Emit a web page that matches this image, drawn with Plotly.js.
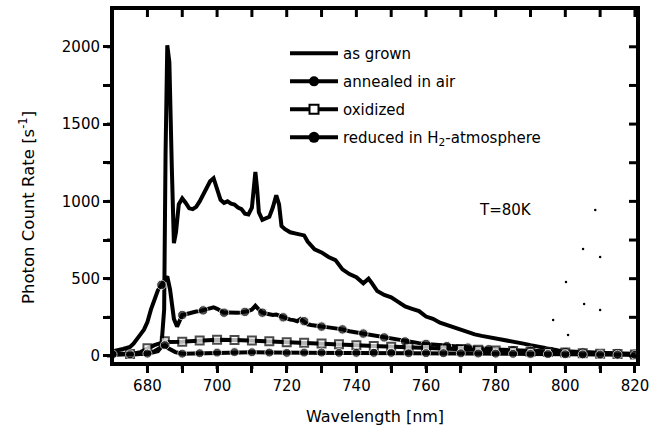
<!DOCTYPE html>
<html>
<head>
<meta charset="utf-8">
<script src="https://cdn.plot.ly/plotly-3.0.1.min.js"></script>
<style>html,body{margin:0;padding:0;background:#fff;}</style>
</head>
<body>
<div id="chart" style="width:670px;height:432px;"></div>
<script>
// ---- data ----
const seriesNames = ['as grown', 'annealed in air', 'oxidized', 'reduced in H<sub>2</sub>-atmosphere'];

const grownX = [670,672,674,676,678,680,682,683,684,684.8,685.2,685.7,686.3,686.7,687,687.6,688.2,689,690,691,
  692,693,694,695,696,697,698,699,700,701,702,703,704,705,706,707,708,709,710,710.5,
  711,711.5,712,713,714,715,716,717,717.8,718.5,719.5,721,723,725,726,728,730,732,734,736,
  738,740,742,743.5,744.5,746,748,750,752,754,756,758,760,762,764,766,768,770,772,774,
  776,778,780,782,784,786,788,790,792,794,796,798,800,805,810,815,820];
const grownY = [20,15,10,10,12,15,25,30,60,300,1300,2010,1900,1620,1220,730,800,980,1020,990,
  955,950,965,1000,1040,1090,1130,1150,1080,1010,990,1000,985,980,960,950,920,915,960,1100,
  1190,1080,930,880,890,900,960,1040,980,840,820,800,790,780,740,690,670,640,620,560,
  530,510,470,500,470,420,395,380,350,320,305,290,255,240,215,200,180,165,155,140,
  130,122,115,110,100,90,80,70,60,50,40,35,30,25,20,15,10];

const annealX = [670,671,672,673,674,675,676,677,678,679,680,681,682,683,684,685,
  685.7,686.5,687,687.6,688.5,689.5,
  690,691,692,693,694,695,696,697,698,699,700,701,702,703,704,705,706,707,708,709,710,
  711,712,713,714,715,716,717,718,719,720,721,722,723,724,725,726,727,728,729,730,
  732,734,736,738,740,742,744,746,748,750,752,754,756,758,760,762,764,766,768,770,772,774,776,778,780,
  785,790,795,800,805,810,815,820];
const annealY = [30,38,40,45,50,58,80,115,140,170,220,300,370,425,460,490,
  515,430,330,240,190,250,
  265,270,278,282,288,290,295,300,310,315,305,290,280,282,280,278,280,282,285,290,300,
  325,300,280,275,270,265,268,260,250,240,235,232,225,240,225,205,200,195,192,190,
  185,180,172,160,152,145,140,128,120,110,102,94,88,83,78,74,70,64,60,57,54,50,47,44,42,
  37,32,28,25,22,20,18,15];

const oxX = [670,675,678,680,682,684,685,686,688,690,692,695,698,700,705,710,715,720,725,730,
  735,740,745,750,755,760,765,770,775,780,785,790,795,800,805,810,815,820];
const oxY = [10,12,25,50,70,85,95,90,88,92,95,100,104,105,104,100,95,88,85,80,
  76,70,65,60,56,52,48,45,40,36,32,28,25,22,18,15,12,10];

const redX = [670,675,680,682,684,685,686,688,690,695,700,705,710,715,720,725,730,735,740,745,
  750,755,760,765,770,775,780,785,790,795,800,805,810,815,820];
const redY = [10,10,15,30,55,70,50,25,15,18,22,25,24,22,20,22,22,20,20,20,
  20,18,18,18,17,16,15,14,13,12,11,10,9,8,8];

// stray specks in the scan
const speckX = [805.1,810.0,800.2,805.4,810.0,796.5,800.8,808.6];
const speckY = [692,640,479,336,298,233,136,944];

// tick positions (every minor step) and the labels shown at the major ones
const xTickVals = [670,680,690,700,710,720,730,740,750,760,770,780,790,800,810,820];
const xTickText = ['','680','','700','','720','','740','','760','','780','','800','','820'];
const yTickVals = [0,250,500,750,1000,1250,1500,1750,2000];
const yTickText = ['0','','500','','1000','','1500','','2000'];

const noteText = 'T=80K', noteX = 782.7, noteY = 944;

// ---- marker thinning (markers every few nm, as in the original) ----
function sizesEvery(xs, step, start, size) {
  const s = xs.map(() => 0);
  for (let p = start; p <= xs[xs.length-1] + 0.01; p += step) {
    let best = -1, bd = 1e9;
    xs.forEach((x, i) => { const d = Math.abs(x - p); if (d < bd) { bd = d; best = i; } });
    if (best >= 0) s[best] = size;
  }
  return s;
}

const lw = 4;
const black = 'black';
const styles = [
  {mode: 'lines'},
  {mode: 'lines+markers', marker: {symbol: 'circle', color: black}},
  {mode: 'lines+markers', marker: {symbol: 'square', color: 'white', line: {color: black, width: 2}}},
  {mode: 'lines+markers', marker: {symbol: 'circle', color: black}}
];
const legendSizes = [0, 10, 9, 11];

const dataSets = [
  [grownX, grownY, null],
  [annealX, annealY, sizesEvery(annealX, 5.85, 684.15, 9.5)],
  [oxX, oxY, sizesEvery(oxX, 5, 675, 8)],
  [redX, redY, sizesEvery(redX, 5, 670, 9)]
];

const traces = [];
dataSets.forEach((ds, i) => {
  const st = styles[i];
  const t = {x: ds[0], y: ds[1], mode: st.mode, showlegend: false, hoverinfo: 'skip',
    line: {color: black, width: lw}};
  if (st.marker) t.marker = Object.assign({}, st.marker, {size: ds[2]});
  traces.push(t);
});
// legend-only entries (no data)
dataSets.forEach((ds, i) => {
  const st = styles[i];
  const t = {x: [null], y: [null], mode: st.mode, name: seriesNames[i], legendgroup: 'g' + i,
    line: {color: black, width: 4}};
  if (st.marker) t.marker = Object.assign({}, st.marker, {size: legendSizes[i]});
  traces.push(t);
});
traces.push({x: speckX, y: speckY, mode: 'markers', showlegend: false,
   marker: {color: black, size: 2.5}, hoverinfo: 'skip'});

const xr = [670.4, 820.3], yr = [-39, 2238];
const W = 670, H = 432, M = {l: 114, r: 34, t: 10, b: 70};
const plotW = W - M.l - M.r, plotH = H - M.t - M.b;
const tl = 7; // tick length in px

// tick marks on all four sides (outside at bottom/left, inside at top/right)
const tickShapes = [];
xTickVals.forEach(v => {
  if (v < xr[0] || v > xr[1]) return;
  tickShapes.push({type: 'line', xref: 'x', yref: 'paper', x0: v, x1: v, y0: 0, y1: -tl / plotH,
    line: {color: black, width: 3}, layer: 'above'});
  tickShapes.push({type: 'line', xref: 'x', yref: 'paper', x0: v, x1: v, y0: 1, y1: 1 - tl / plotH,
    line: {color: black, width: 3}, layer: 'above'});
});
yTickVals.forEach(v => {
  tickShapes.push({type: 'line', xref: 'paper', yref: 'y', y0: v, y1: v, x0: 0, x1: -tl / plotW,
    line: {color: black, width: 3}, layer: 'above'});
  tickShapes.push({type: 'line', xref: 'paper', yref: 'y', y0: v, y1: v, x0: 1, x1: 1 - tl / plotW,
    line: {color: black, width: 3}, layer: 'above'});
});

const layout = {
  width: W, height: H,
  margin: {l: M.l, r: M.r, t: M.t, b: M.b, pad: 0},
  paper_bgcolor: 'white', plot_bgcolor: 'white',
  font: {family: 'DejaVu Sans, Arial, sans-serif', size: 15, color: 'black'},
  showlegend: true,
  legend: {x: 0.3276, y: 0.923, xanchor: 'left', yanchor: 'top', bgcolor: 'rgba(0,0,0,0)',
    itemwidth: 48, itemsizing: 'trace', tracegroupgap: 5.5, font: {size: 15}},
  xaxis: {range: xr, tickmode: 'array', tickvals: xTickVals, ticktext: xTickText,
    ticks: 'outside', ticklen: tl, tickwidth: 3, tickcolor: 'black',
    showline: true, linewidth: 4, linecolor: 'black', mirror: true,
    showgrid: false, zeroline: false, tickfont: {size: 15},
    title: {text: 'Wavelength [nm]', standoff: 18, font: {size: 16}}},
  yaxis: {range: yr, tickmode: 'array', tickvals: yTickVals, ticktext: yTickText,
    ticks: 'outside', ticklen: tl, tickwidth: 3, tickcolor: 'black',
    showline: true, linewidth: 4, linecolor: 'black', mirror: true,
    showgrid: false, zeroline: false, tickfont: {size: 15}},
  shapes: tickShapes,
  annotations: [
    {text: 'Photon Count Rate [s<sup>-1</sup>]', xref: 'paper', yref: 'paper', x: -0.167, y: 0.44,
     xanchor: 'center', yanchor: 'middle', textangle: -90, showarrow: false, font: {size: 16.5}},
    {text: noteText, xref: 'x', yref: 'y', x: noteX, y: noteY, xanchor: 'center', yanchor: 'middle',
     showarrow: false, font: {size: 15}}
  ]
};

Plotly.newPlot('chart', traces, layout, {displayModeBar: false, staticPlot: true});
</script>
</body>
</html>
